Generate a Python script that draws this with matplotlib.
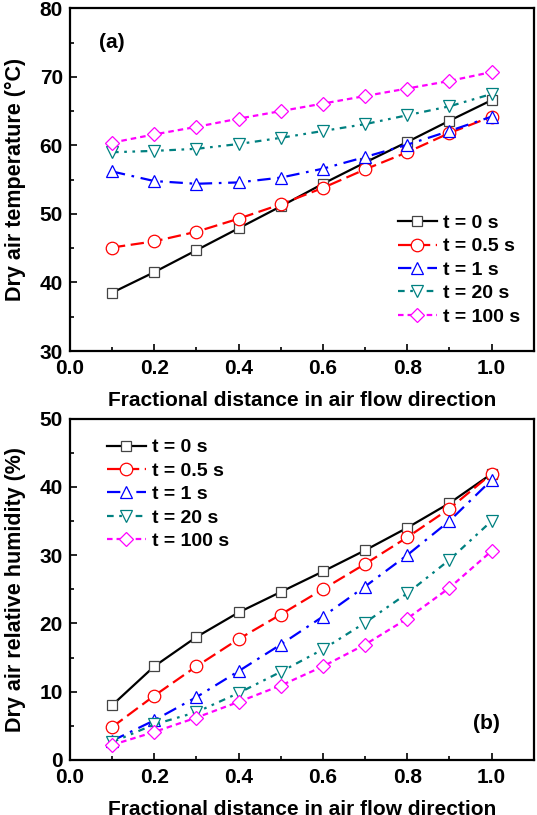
import matplotlib.pyplot as plt
from matplotlib.ticker import MultipleLocator

plt.rcParams['font.family'] = ['Liberation Sans', 'DejaVu Sans']
plt.rcParams['font.weight'] = 'bold'

# fractional distance
x = [0.1, 0.2, 0.3, 0.4, 0.5, 0.6, 0.7, 0.8, 0.9, 1.0]
labels = ['t = 0 s', 't = 0.5 s', 't = 1 s', 't = 20 s', 't = 100 s']

# (a) dry air temperature, degC
temp_t0 = [38.5, 41.5, 44.7, 47.9, 51.1, 54.4, 57.5, 60.5, 63.6, 66.6]
temp_t05 = [45.1, 46.0, 47.4, 49.3, 51.4, 53.8, 56.5, 59.0, 61.8, 64.2]
temp_t1 = [56.2, 54.8, 54.4, 54.6, 55.3, 56.6, 58.3, 60.1, 62.1, 64.2]
temp_t20 = [59.0, 59.2, 59.5, 60.2, 61.1, 62.1, 63.1, 64.4, 65.7, 67.5]
temp_t100 = [60.4, 61.6, 62.7, 63.9, 65.0, 66.1, 67.2, 68.3, 69.4, 70.7]

# (b) dry air relative humidity, %
rh_t0 = [8.0, 13.7, 18.0, 21.6, 24.6, 27.6, 30.7, 34.0, 37.6, 41.9]
rh_t05 = [4.8, 9.4, 13.7, 17.7, 21.3, 25.0, 28.7, 32.6, 36.8, 41.9]
rh_t1 = [2.8, 5.8, 9.2, 13.0, 16.9, 21.0, 25.4, 30.0, 35.0, 41.0]
rh_t20 = [2.6, 5.2, 7.0, 9.8, 12.9, 16.2, 20.1, 24.4, 29.3, 35.0]
rh_t100 = [2.2, 4.1, 6.2, 8.5, 10.9, 13.7, 16.9, 20.7, 25.2, 30.6]

colors = ['black', 'red', 'blue', '#008080', '#ff00ff']
markers = ['s', 'o', '^', 'v', 'D']
msizes = [7.5, 9, 9, 9, 7.5]
styles = ['-', (0, (6, 2.5)), (0, (6, 3, 1.2, 3)), (0, (3, 2.5, 1.2, 2.5, 1.2, 2.5)), (0, (2.5, 1.8))]

fig = plt.figure(figsize=(5.37, 8.15), dpi=100)
ax1 = fig.add_axes([0.130, 0.5693, 0.864, 0.4205])
ax2 = fig.add_axes([0.130, 0.0675, 0.864, 0.419])


def draw(ax, series):
    for i, y in enumerate(series):
        edge = '#444444' if i == 0 else colors[i]
        ax.plot(x, y, color=colors[i], linestyle=styles[i], lw=1.6,
                marker=markers[i], ms=msizes[i], mfc='white', mec=edge,
                mew=0.9, label=labels[i])


def style(ax):
    ax.set_xlim(0, 1.1)
    ax.xaxis.set_minor_locator(MultipleLocator(0.1))
    ax.set_xticks([0.0, 0.2, 0.4, 0.6, 0.8, 1.0])
    ax.set_xticklabels(['0.0', '0.2', '0.4', '0.6', '0.8', '1.0'])
    ax.tick_params(which='both', direction='in', labelsize=15)
    ax.tick_params(which='major', length=5, width=1.2)
    ax.tick_params(which='minor', length=3, width=1.2)
    ax.tick_params(axis='x', pad=6)
    ax.tick_params(axis='y', pad=5)
    for sp in ax.spines.values():
        sp.set_linewidth(1.6)
    for lab in ax.get_xticklabels() + ax.get_yticklabels():
        lab.set_fontweight('bold')
    ax.set_xlabel('Fractional distance in air flow direction', fontsize=15,
                  fontweight='bold', labelpad=9)


def legend(ax, **kw):
    ax.legend(frameon=False, prop={'size': 14, 'weight': 'bold'},
              handlelength=2.0, handletextpad=0.3, labelspacing=0.3,
              borderaxespad=0.2, **kw)


draw(ax1, [temp_t0, temp_t05, temp_t1, temp_t20, temp_t100])
ax1.set_ylim(30, 80)
ax1.yaxis.set_major_locator(MultipleLocator(10))
ax1.yaxis.set_minor_locator(MultipleLocator(5))
style(ax1)
ax1.set_ylabel('Dry air temperature (°C)', fontsize=15.5, fontweight='bold', labelpad=10)
ax1.text(0.0625, 0.90, '(a)', transform=ax1.transAxes, fontsize=15,
         fontweight='bold', va='center')
legend(ax1, loc='lower right', bbox_to_anchor=(0.995, 0.04))

draw(ax2, [rh_t0, rh_t05, rh_t1, rh_t20, rh_t100])
ax2.set_ylim(0, 50)
ax2.yaxis.set_major_locator(MultipleLocator(10))
ax2.yaxis.set_minor_locator(MultipleLocator(5))
style(ax2)
ax2.set_ylabel('Dry air relative humidity (%)', fontsize=15.5, fontweight='bold', labelpad=10)
ax2.text(0.927, 0.108, '(b)', transform=ax2.transAxes, fontsize=15,
         fontweight='bold', ha='right', va='center')
legend(ax2, loc='upper left', bbox_to_anchor=(0.055, 0.975))

fig.savefig('out.png', dpi=100)
